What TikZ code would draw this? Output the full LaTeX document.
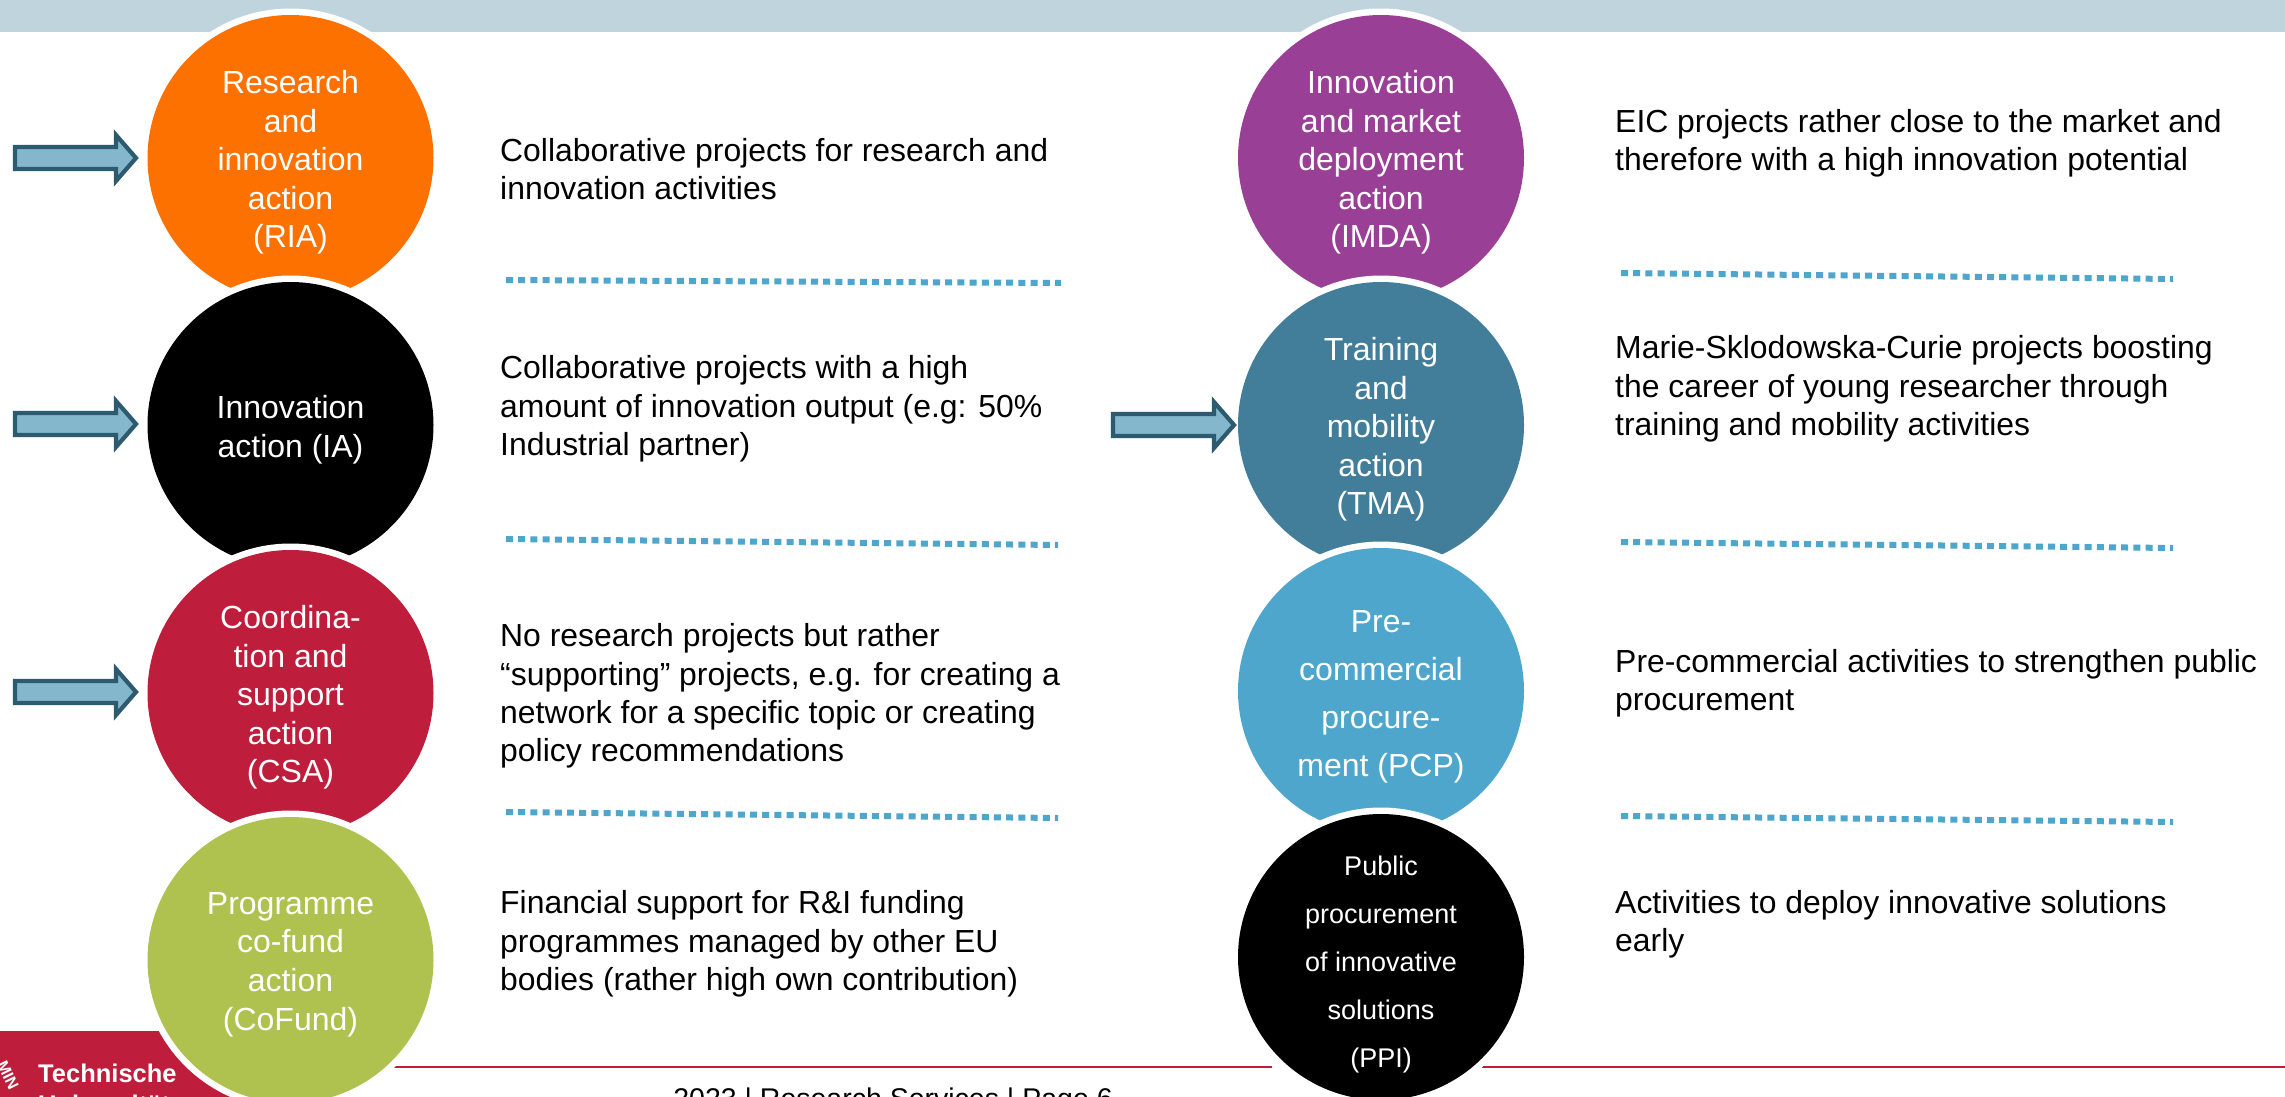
\documentclass[tikz,border=0pt]{standalone}
\usepackage{fontspec}
\setmainfont{Liberation Sans}
\definecolor{band}{HTML}{BFD4DD}
\definecolor{ria}{HTML}{FC7100}
\definecolor{csa}{HTML}{BE1E3C}
\definecolor{cof}{HTML}{AFC14F}
\definecolor{imda}{HTML}{993F95}
\definecolor{tma}{HTML}{427D99}
\definecolor{pcp}{HTML}{4EA6CC}
\definecolor{arrowfill}{HTML}{84B6CC}
\definecolor{arrowline}{HTML}{2C5A6E}
\tikzset{
  x=1pt,y=-1pt,
  ring/.style={circle,fill=white,minimum size=299pt,inner sep=0pt},
  disc/.style={circle,minimum size=286pt,inner sep=0pt},
  disctext/.style={inner sep=0pt,text=white,align=center,font=\fontsize{32}{38.6}\selectfont},
  desc/.style={anchor=west,inner sep=0pt,align=left,text=black,font=\fontsize{31.9}{38.3}\selectfont},
  rule/.style={draw=pcp,line width=6pt,dash pattern=on 7pt off 5.2pt},
  redline/.style={draw=csa,line width=2.2pt},
  blockarrow/.style={draw=arrowline,fill=arrowfill,line width=4.2pt,miter limit=10},
}
\newcommand{\discnode}[6]{% name, x, y, colour, extra, text
  \node[ring] at (#2,#3) {};
  \node[disc,fill=#4] (#1) at (#2,#3) {};
  \node[disctext,yshift=-4.5pt,#5] (#1t) at (#1.center) {#6};
}
\newcommand{\blockarr}[2]{%
  \draw[blockarrow] (#1-121,#2-11) -- (#1-20,#2-11) -- (#1-20,#2-23) -- (#1,#2) -- (#1-20,#2+23) -- (#1-20,#2+11) -- (#1-121,#2+11) -- cycle;
}
\begin{document}
\begin{tikzpicture}
\useasboundingbox (0,0) rectangle (2285,1097);
\clip (0,0) rectangle (2285,1097);
\fill[white] (0,0) rectangle (2285,1097);
\fill[band] (0,0) rectangle (2285,32);
% footer
\fill[csa] (0,1031) rectangle (240,1097);
\node[inner sep=0pt,text=white,rotate=-64,font=\bfseries\fontsize{16}{16}\selectfont] (seal) at (8,1075) {MIN};
\node[anchor=base west,inner sep=0pt,text=white,font=\bfseries\fontsize{25.5}{26}\selectfont] (logoa) at (38,1082) {Technische};
\node[anchor=base west,inner sep=0pt,text=white,font=\bfseries\fontsize{25.5}{26}\selectfont] (logob) at (38,1113) {Universität};
\draw[redline] (394,1067) -- (1272,1067);
\draw[redline] (1482,1067) -- (2285,1067);
\node[anchor=base,inner sep=0pt,font=\fontsize{28.5}{30}\selectfont] (foot) at (893,1108) {2023 | Research Services | Page 6};
% left column
\discnode{ria}{290.5}{158}{ria}{}{Research\\and\\innovation\\action\\(RIA)}
\discnode{ia}{290.5}{425}{black}{}{Innovation\\action (IA)}
\discnode{csa}{290.5}{693}{csa}{}{Coordina-\\tion and\\support\\action\\(CSA)}
\discnode{cofund}{290.5}{960}{cof}{}{Programme\\co-fund\\action\\(CoFund)}
% right column
\discnode{imda}{1381}{158}{imda}{}{Innovation\\and market\\deployment\\action\\(IMDA)}
\discnode{tma}{1381}{425}{tma}{}{Training\\and\\mobility\\action\\(TMA)}
\discnode{pcp}{1381}{691}{pcp}{yshift=-1pt,font=\fontsize{32}{48}\selectfont}{Pre-\\commercial\\procure-\\ment (PCP)}
\discnode{ppi}{1381}{957}{black}{yshift=-3pt,font=\fontsize{27}{48}\selectfont}{Public\\procurement\\of innovative\\solutions\\(PPI)}
% arrows
\blockarr{136}{158}
\blockarr{136}{424}
\blockarr{136}{692}
\blockarr{1234}{425}
% descriptions
\node[desc] (d1) at (500,169) {Collaborative projects for research and\\innovation activities};
\node[desc] (d2) at (500,409) {Collaborative projects with a high\\amount of innovation output (e.g: 50\%\\Industrial partner)};
\node[desc] (d3) at (500,696) {No research projects but rather\\“supporting” projects, e.g. for creating a\\network for a specific topic or creating\\policy recommendations};
\node[desc] (d4) at (500,944) {Financial support for R\&I funding\\programmes managed by other EU\\bodies (rather high own contribution)};
\node[desc] (d5) at (1615,143) {EIC projects rather close to the market and\\therefore with a high innovation potential};
\node[desc] (d6) at (1615,389) {Marie-Sklodowska-Curie projects boosting\\the career of young researcher through\\training and mobility activities};
\node[desc] (d7) at (1615,683) {Pre-commercial activities to strengthen public\\procurement};
\node[desc] (d8) at (1615,924) {Activities to deploy innovative solutions\\early};
% dotted separators
\draw[rule] (506,280) -- (1061,283);
\draw[rule] (506,539) -- (1058,545);
\draw[rule] (506,812) -- (1058,818);
\draw[rule] (1621,273) -- (2173,279);
\draw[rule] (1621,542) -- (2173,548);
\draw[rule] (1621,816) -- (2173,822);
\end{tikzpicture}
\end{document}
